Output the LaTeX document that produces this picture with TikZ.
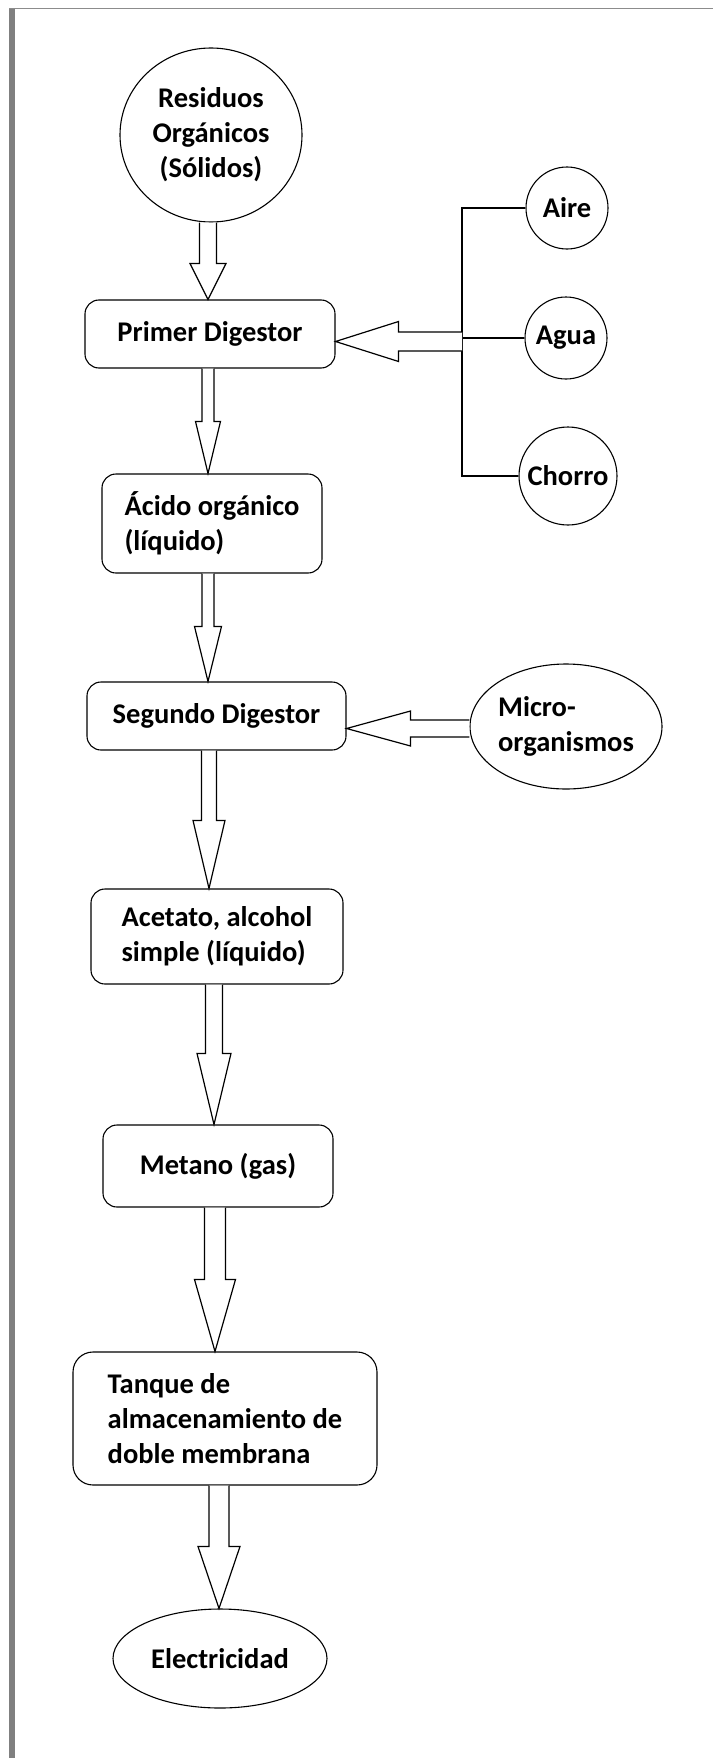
\documentclass[tikz,border=0pt]{standalone}
\usepackage{fontspec}
\setmainfont{Carlito}
\usetikzlibrary{shapes.geometric,calc}
\newcommand\myvarrow[5]{\draw[blk] let \p1=#1, \p2=#2 in (\x2-#3,\y1) -- (\x2-#3,\y2+#5) -- (\x2-#4,\y2+#5) -- (\x2,\y2) -- (\x2+#4,\y2+#5) -- (\x2+#3,\y2+#5) -- (\x2+#3,\y1);}
\newcommand\myharrow[5]{\draw[blk] let \p1=#1, \p2=#2 in (\x1,\y1+#3) -- (\x2+#5,\y1+#3) -- (\x2+#5,\y1+#4) -- (\x2,\y1) -- (\x2+#5,\y1-#4) -- (\x2+#5,\y1-#3) -- (\x1,\y1-#3);}
\tikzset{
  lbl/.style={font=\bfseries\fontsize{28.5}{35}\selectfont, inner sep=0pt},
  box/.style={lbl, draw, line width=1.1pt, rounded corners=14pt, align=left},
  oval/.style={lbl, draw, line width=1.1pt, ellipse},
  ball/.style={lbl, draw, line width=1.1pt, circle},
  blk/.style={draw, fill=white, line width=1.2pt, line join=miter},
  tree/.style={draw, line width=1.2pt},
}
\begin{document}
\begin{tikzpicture}[x=1pt,y=-1pt]
\useasboundingbox (0,0) rectangle (713,1758);
\fill[white] (0,0) rectangle (713,1758);
% frame
\fill[black!50] (9,8) rectangle (15,1758);
\draw[black!45, line width=1.5pt] (9,8.5) -- (713,8.5);

% main column
\node[oval, minimum width=182pt, minimum height=174pt, align=center] (res) at (211,135) {Residuos\\Orgánicos\\(Sólidos)};
\node[box, minimum width=250pt, minimum height=68pt] (p1) at (210,334) {Primer Digestor};
\node[box, minimum width=220pt, minimum height=99pt] (acido) at (212,523.5) {Ácido orgánico\\(líquido)};
\node[box, minimum width=259pt, minimum height=68pt] (seg) at (216.5,716) {Segundo Digestor};
\node[box, minimum width=252pt, minimum height=95pt] (acet) at (217,936.5) {Acetato, alcohol\\simple (líquido)};
\node[box, minimum width=230pt, minimum height=82pt] (met) at (218,1166) {Metano (gas)};
\node[box, rounded corners=20pt, minimum width=304pt, minimum height=133pt] (tank) at (225,1418.5) {Tanque de\\almacenamiento de\\doble membrana};
\node[oval, minimum width=214pt, minimum height=99pt] (elec) at (220,1658.5) {Electricidad};

% side inputs
\node[ball, minimum size=82pt] (aire) at (567,208) {Aire};
\node[ball, minimum size=82pt] (agua) at (566,338) {Agua};
\node[ball, minimum size=98pt] (chorro) at (568,476) {Chorro};
\node[oval, minimum width=181pt, minimum height=125pt, align=left] (micro) at (566,726.5) {Micro-\\organismos};

% tree joining the three inputs
\coordinate (junc) at (462,341.5);
\draw[tree] (aire.west) -| (junc);
\draw[tree] (chorro.west) -| (junc);
\draw[tree] (agua.west) -- (agua.west -| junc);

% block arrows
\myvarrow{(res.south)}{([xshift=-2pt]p1.north)}{8.5pt}{18pt}{36pt}
\myvarrow{(p1.south)}{([xshift=-4pt]acido.north)}{6pt}{12.5pt}{52pt}
\myvarrow{(acido.south)}{([xshift=-8.5pt]seg.north)}{6pt}{13.5pt}{55pt}
\myvarrow{(seg.south)}{([xshift=-8pt]acet.north)}{7.5pt}{16pt}{68pt}
\myvarrow{(acet.south)}{([xshift=-4pt]met.north)}{8.5pt}{17pt}{71pt}
\myvarrow{(met.south)}{([xshift=-10pt]tank.north)}{10.5pt}{20.5pt}{72pt}
\myvarrow{(tank.south)}{([xshift=-1pt]elec.north)}{10pt}{21pt}{62pt}
\myharrow{(junc)}{(p1.east)}{9.5pt}{20pt}{63pt}
\myharrow{([yshift=-2pt]micro.west)}{(seg.east)}{8.5pt}{17.5pt}{64pt}
\end{tikzpicture}
\end{document}
